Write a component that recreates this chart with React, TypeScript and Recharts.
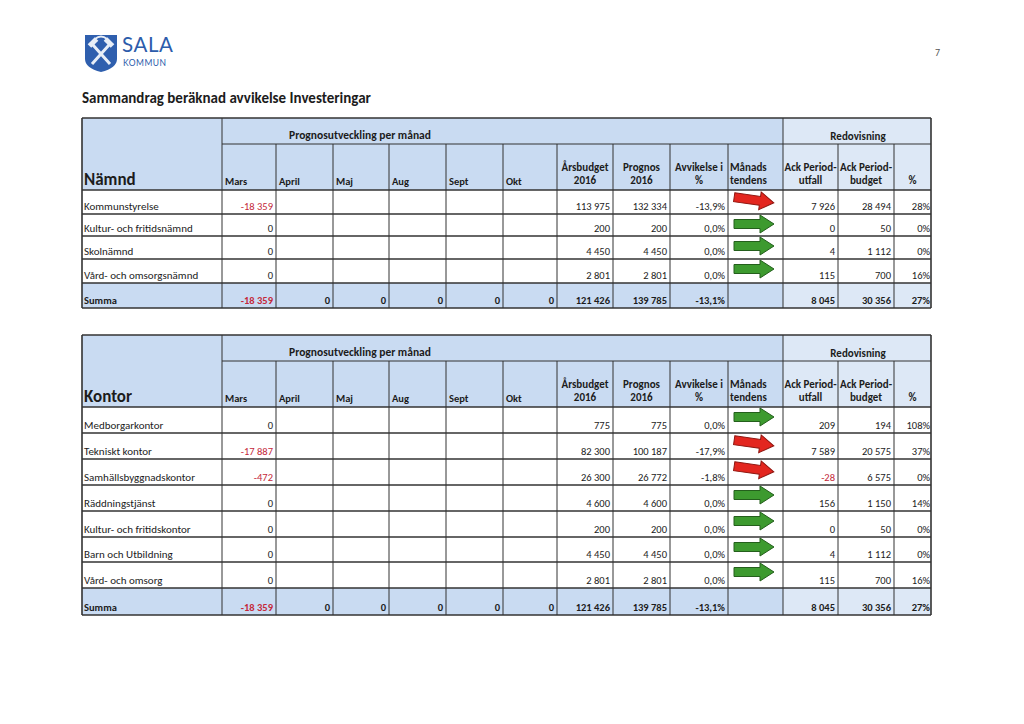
import React from "react";
import { ComposedChart, XAxis, YAxis, Scatter, ReferenceArea, ReferenceLine } from "recharts";

// ---- data ----
const months = ["Mars", "April", "Maj", "Aug", "Sept", "Okt"];

// Nämnd table
const namndNames = ["Kommunstyrelse", "Kultur- och fritidsnämnd", "Skolnämnd", "Vård- och omsorgsnämnd"];
const namndMars = [-18359, 0, 0, 0];
const namndBudget = [113975, 200, 4450, 2801];
const namndPrognos = [132334, 200, 4450, 2801];
const namndAvvikelse = [-13.9, 0, 0, 0];
const namndTrend = ["red", "green", "green", "green"];
const namndAckUtfall = [7926, 0, 4, 115];
const namndAckBudget = [28494, 50, 1112, 700];
const namndPct = [28, 0, 0, 16];

// Kontor table
const kontorNames = [
  "Medborgarkontor",
  "Tekniskt kontor",
  "Samhällsbyggnadskontor",
  "Räddningstjänst",
  "Kultur- och fritidskontor",
  "Barn och Utbildning",
  "Vård- och omsorg",
];
const kontorMars = [0, -17887, -472, 0, 0, 0, 0];
const kontorBudget = [775, 82300, 26300, 4600, 200, 4450, 2801];
const kontorPrognos = [775, 100187, 26772, 4600, 200, 4450, 2801];
const kontorAvvikelse = [0, -17.9, -1.8, 0, 0, 0, 0];
const kontorTrend = ["green", "red", "red", "green", "green", "green", "green"];
const kontorAckUtfall = [209, 7589, -28, 156, 0, 4, 115];
const kontorAckBudget = [194, 20575, 6575, 1150, 50, 1112, 700];
const kontorPct = [108, 37, 0, 14, 0, 0, 16];

// Summa row (same in both tables)
const summaMonths = [-18359, 0, 0, 0, 0, 0];
const summaBudget = 121426;
const summaPrognos = 139785;
const summaAvvikelse = -13.1;
const summaAckUtfall = 8045;
const summaAckBudget = 30356;
const summaPct = 27;

// ---- layout ----
const W = 1024;
const H = 724;
const FONT = "Carlito, Lato, 'Open Sans', sans-serif";
const INK = "#1c1c1c";
const RED = "#c4283a";
const BLUE = "#c9dbf2";
const LIGHT = "#dde8f6";
const colEdges = [82, 222, 276, 333, 389, 446, 503, 557, 613, 670, 728, 783, 838, 894, 931];

type Cell = { x: number; y: number; text: string; anchor?: string; bold?: boolean; size?: number; color?: string };
type Seg = { x1: number; y1: number; x2: number; y2: number; w: number };
type Area = { x1: number; x2: number; y1: number; y2: number; fill: string };

const fmt = (n: number) => (n < 0 ? "-" : "") + Math.abs(n).toString().replace(/\B(?=(\d{3})+(?!\d))/g, " ");
const fmtPct1 = (n: number) => n.toFixed(1).replace(".", ",") + "%";

interface TableCfg {
  label: string;
  top: number;
  mid: number;
  head: number;
  rows: number[]; // bottom edge of each data row
  bottom: number;
  names: string[];
  mars: number[];
  budget: number[];
  prognos: number[];
  avv: number[];
  trend: string[];
  utfall: number[];
  ackBudget: number[];
  pct: number[];
}

function buildTable(t: TableCfg) {
  const L = colEdges[0];
  const R = colEdges[colEdges.length - 1];
  const areas: Area[] = [
    { x1: L, x2: 783, y1: t.top, y2: t.head, fill: BLUE },
    { x1: 783, x2: R, y1: t.top, y2: t.head, fill: LIGHT },
    { x1: L, x2: 783, y1: t.rows[t.rows.length - 1], y2: t.bottom, fill: BLUE },
    { x1: 783, x2: R, y1: t.rows[t.rows.length - 1], y2: t.bottom, fill: LIGHT },
  ];

  const segs: Seg[] = [];
  segs.push({ x1: L, y1: t.top, x2: R, y2: t.top, w: 1.6 });
  segs.push({ x1: colEdges[1], y1: t.mid, x2: R, y2: t.mid, w: 1 });
  segs.push({ x1: L, y1: t.head, x2: R, y2: t.head, w: 1.4 });
  t.rows.forEach((y) => segs.push({ x1: L, y1: y, x2: R, y2: y, w: 1.3 }));
  segs.push({ x1: L, y1: t.bottom, x2: R, y2: t.bottom, w: 1.6 });
  colEdges.forEach((x, i) => {
    const full = i === 0 || i === 1 || i === 11 || i === colEdges.length - 1;
    segs.push({ x1: x, y1: full ? t.top : t.mid, x2: x, y2: t.bottom, w: i === 0 || i === colEdges.length - 1 ? 1.6 : 1 });
  });

  const cells: Cell[] = [];
  const hb = t.head;
  cells.push({ x: L + 2, y: hb - 5, text: t.label, anchor: "start", bold: true, size: 17 });
  cells.push({ x: 360, y: t.top + 21, text: "Prognosutveckling per månad", anchor: "middle", bold: true, size: 11.5 });
  cells.push({ x: 858, y: t.top + 22, text: "Redovisning", anchor: "middle", bold: true, size: 11 });
  months.forEach((m, i) => cells.push({ x: colEdges[1 + i] + 3, y: hb - 5, text: m, anchor: "start", bold: true, size: 10.5 }));
  const center = (i: number) => (colEdges[i] + colEdges[i + 1]) / 2;
  const twoLine: [number, string, string, string][] = [
    [7, "Årsbudget", "2016", "middle"],
    [8, "Prognos", "2016", "middle"],
    [9, "Avvikelse i", "%", "middle"],
    [10, "Månads", "tendens", "start"],
    [11, "Ack Period-", "utfall", "middle"],
    [12, "Ack Period-", "budget", "middle"],
  ];
  twoLine.forEach(([c, a, b, anchor]) => {
    const x = anchor === "start" ? colEdges[c] + 2 : center(c);
    cells.push({ x, y: hb - 19, text: a, anchor, bold: true, size: 11 });
    cells.push({ x, y: hb - 6, text: b, anchor, bold: true, size: 11 });
  });
  cells.push({ x: center(13), y: hb - 6, text: "%", anchor: "middle", bold: true, size: 11 });

  const arrows: { x: number; y: number; trend: string }[] = [];
  t.names.forEach((name, r) => {
    const yb = t.rows[r] - 4;
    const yt = r === 0 ? t.head : t.rows[r - 1];
    const right = (c: number) => colEdges[c + 1] - 3;
    cells.push({ x: L + 2, y: yb, text: name, anchor: "start", size: 11 });
    cells.push({ x: right(1), y: yb, text: fmt(t.mars[r]), color: t.mars[r] < 0 ? RED : INK });
    cells.push({ x: right(7), y: yb, text: fmt(t.budget[r]) });
    cells.push({ x: right(8), y: yb, text: fmt(t.prognos[r]) });
    cells.push({ x: right(9), y: yb, text: fmtPct1(t.avv[r]) });
    cells.push({ x: right(11), y: yb, text: fmt(t.utfall[r]), color: t.utfall[r] < 0 ? RED : INK });
    cells.push({ x: right(12), y: yb, text: fmt(t.ackBudget[r]) });
    cells.push({ x: colEdges[14] - 1, y: yb, text: t.pct[r] + "%" });
    arrows.push({ x: 754, y: yt + 10, trend: t.trend[r] });
  });

  const ys = t.bottom - 4;
  const right = (c: number) => colEdges[c + 1] - 3;
  cells.push({ x: L + 2, y: ys, text: "Summa", anchor: "start", bold: true, size: 10.5 });
  summaMonths.forEach((v, i) =>
    cells.push({ x: right(1 + i), y: ys, text: fmt(v), bold: true, color: v < 0 ? RED : INK })
  );
  cells.push({ x: right(7), y: ys, text: fmt(summaBudget), bold: true });
  cells.push({ x: right(8), y: ys, text: fmt(summaPrognos), bold: true });
  cells.push({ x: right(9), y: ys, text: fmtPct1(summaAvvikelse), bold: true });
  cells.push({ x: right(11), y: ys, text: fmt(summaAckUtfall), bold: true });
  cells.push({ x: right(12), y: ys, text: fmt(summaAckBudget), bold: true });
  cells.push({ x: colEdges[14] - 1, y: ys, text: summaPct + "%", bold: true });

  return { areas, segs, cells, arrows };
}

const tableA = buildTable({
  label: "Nämnd",
  top: 118,
  mid: 144,
  head: 190,
  rows: [214, 236, 259, 283],
  bottom: 308,
  names: namndNames,
  mars: namndMars,
  budget: namndBudget,
  prognos: namndPrognos,
  avv: namndAvvikelse,
  trend: namndTrend,
  utfall: namndAckUtfall,
  ackBudget: namndAckBudget,
  pct: namndPct,
});

const tableB = buildTable({
  label: "Kontor",
  top: 335,
  mid: 361,
  head: 407,
  rows: [433, 459, 485, 511, 537, 562, 588],
  bottom: 615,
  names: kontorNames,
  mars: kontorMars,
  budget: kontorBudget,
  prognos: kontorPrognos,
  avv: kontorAvvikelse,
  trend: kontorTrend,
  utfall: kontorAckUtfall,
  ackBudget: kontorAckBudget,
  pct: kontorPct,
});

const allAreas = [...tableA.areas, ...tableB.areas];
const allSegs = [...tableA.segs, ...tableB.segs];
const allCells = [...tableA.cells, ...tableB.cells];
const allArrows = [...tableA.arrows, ...tableB.arrows];

const TextShape = (props: any) => {
  const { cx, cy, payload } = props;
  return (
    <text
      x={cx}
      y={cy}
      textAnchor={payload.anchor ?? "end"}
      fontSize={payload.size ?? 10.5}
      fontWeight={payload.bold ? 700 : 400}
      fill={payload.color ?? INK}
      fontFamily={FONT}
    >
      {payload.text}
    </text>
  );
};

const ArrowShape = (props: any) => {
  const { cx, cy, payload } = props;
  const red = payload.trend === "red";
  return (
    <g transform={`translate(${cx},${cy}) rotate(${red ? 8 : 0})`}>
      <polygon
        points="-20,-4.5 6,-4.5 6,-9 20,0 6,9 6,4.5 -20,4.5"
        fill={red ? "#e3261f" : "#3d9a2f"}
        stroke={red ? "#8e1711" : "#245f1c"}
        strokeWidth={1}
      />
    </g>
  );
};

function PageHeader() {
  return (
    <svg width={W} height={H} style={{ position: "absolute", left: 0, top: 0, pointerEvents: "none" }}>
      {/* logo */}
      <g transform="translate(85,35)">
        <path d="M0,0 H32 V24 Q32,33 16,37 Q0,33 0,24 Z" fill="#2f5fae" />
        <path d="M7,29 L24,10 M25,29 L8,10" stroke="#e8eef7" strokeWidth={3} />
        <rect x={19} y={5} width={10} height={5} fill="#e8eef7" transform="rotate(45 24 7.5)" />
        <rect x={3} y={5} width={10} height={5} fill="#e8eef7" transform="rotate(-45 8 7.5)" />
        <path d="M10,4 Q16,-1 22,4" stroke="#e8eef7" strokeWidth={2} fill="none" />
      </g>
      <text x={122} y={52} fontFamily="Lato, sans-serif" fontSize={20.5} fill="#2c5cab" letterSpacing={0.6}>
        SALA
      </text>
      <text x={123} y={66} fontFamily="Lato, sans-serif" fontSize={8.5} fill="#2c5cab" letterSpacing={0.5}>
        KOMMUN
      </text>
      <text x={82} y={103} fontFamily={FONT} fontSize={15} fontWeight={700} fill={INK}>
        Sammandrag beräknad avvikelse Investeringar
      </text>
      <text x={935} y={56} fontFamily={FONT} fontSize={10} fill="#555">
        7
      </text>
    </svg>
  );
}

export default function App() {
  return (
    <div style={{ position: "absolute", left: 0, top: 0, width: W, height: H, background: "#fff" }}>
      <ComposedChart width={W} height={H} margin={{ top: 0, right: 0, bottom: 0, left: 0 }}>
        <XAxis type="number" dataKey="x" domain={[0, W]} allowDataOverflow hide />
        <YAxis type="number" dataKey="y" domain={[0, H]} allowDataOverflow reversed hide />
        {allAreas.map((a, i) => (
          <ReferenceArea key={"a" + i} x1={a.x1} x2={a.x2} y1={a.y1} y2={a.y2} fill={a.fill} fillOpacity={1} stroke="none" />
        ))}
        {allSegs.map((s, i) => (
          <ReferenceLine
            key={"l" + i}
            segment={[
              { x: s.x1, y: s.y1 },
              { x: s.x2, y: s.y2 },
            ]}
            stroke="#333"
            strokeWidth={s.w}
          />
        ))}
        <Scatter data={allCells} shape={TextShape} isAnimationActive={false} />
        <Scatter data={allArrows} shape={ArrowShape} isAnimationActive={false} />
      </ComposedChart>
      <PageHeader />
    </div>
  );
}
